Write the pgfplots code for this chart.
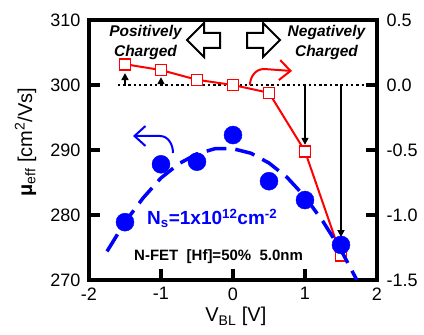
\documentclass[border=0pt]{standalone}
\usepackage{pgfplots}
\pgfplotsset{compat=1.18}
\usepackage{fontspec}
\setmainfont{Liberation Sans}
\usetikzlibrary{arrows.meta}
\definecolor{myblue}{RGB}{0,0,255}
\definecolor{myred}{RGB}{255,0,0}
\begin{document}
\begin{tikzpicture}[x=1pt,y=1pt]
\path[use as bounding box] (0,0) rectangle (424,335);
\pgfplotsset{
  every axis/.append style={
    at={(89pt,55pt)}, anchor=south west,
    scale only axis, width=288pt, height=260pt,
    xmin=-2, xmax=2,
    axis line style={line width=3.3pt, line cap=rect},
    tick align=inside,
    major tick length=11pt,
    every tick/.style={line width=3.3pt, black},
    tick label style={font=\fontsize{18}{20}\selectfont},
    label style={font=\fontsize{20}{22}\selectfont},
  }
}
% right axis (red)
\begin{axis}[
  ymin=-1.5, ymax=0.5,
  axis x line=none, axis y line*=right,
  ytick={-1.5,-1,-0.5,0,0.5}, yticklabels={-1.5,-1.0,-0.5,0.0,0.5},
  yticklabel style={xshift=6pt},
]
\draw[black, line width=2.5pt, dash pattern=on 2.5pt off 2.8pt] (axis cs:-1.6,0) -- (axis cs:2,0);
\draw[black, line width=1.5pt, -{Triangle[length=7pt,width=7pt]}] (axis cs:-1.5,0) -- (axis cs:-1.5,0.092);
\draw[black, line width=1.5pt, -{Triangle[length=7pt,width=7pt]}] (axis cs:-1,0) -- (axis cs:-1,0.06);
\draw[black, line width=1.5pt, -{Triangle[length=7pt,width=7pt]}] (axis cs:1,0) -- (axis cs:1,-0.46);
\draw[black, line width=1.5pt, -{Triangle[length=7pt,width=7pt]}] (axis cs:1.5,0) -- (axis cs:1.5,-1.17);
\addplot[myred, line width=2pt, mark=square*, mark size=5.5pt,
  mark options={fill=white, draw=myred, line width=1.6pt, solid}] coordinates {
  (-1.5,0.16) (-1,0.115) (-0.5,0.04) (0,0.0) (0.5,-0.06) (1,-0.51) (1.5,-1.31)
};
\end{axis}
% left axis (blue)
\begin{axis}[
  ymin=270, ymax=310,
  ytick={270,280,290,300,310}, yticklabels={270,280,290,300,310},
  xtick={-2,-1,0,1,2}, xticklabels={-2,-1,0,1,2},
  xtick pos=bottom, ytick pos=left,
  yticklabel style={xshift=-5pt},
  xticklabel style={yshift=-4pt},
  xlabel={V\textsubscript{BL} [V]},
  ylabel={\textbf{μ}\textsubscript{eff} [cm\textsuperscript{2}/Vs]},
  xlabel style={at={(axis description cs:0.51,0)}, anchor=base, yshift=-42pt},
  ylabel style={at={(axis description cs:-0.22,0.53)}, anchor=center},
]
\addplot[myblue, line width=3.5pt, dash pattern=on 20pt off 9pt] coordinates {
  (-1.75,274.4) (-1.5,278.9) (-1.25,282.6) (-1.0,285.7) (-0.75,287.9) (-0.5,289.4)
  (-0.25,290.2) (0,290.2) (0.25,289.5) (0.5,288.0) (0.75,285.8) (1.0,282.8)
  (1.25,279.0) (1.5,274.6) (1.72,270.0)
};
\addplot[only marks, mark=*, mark size=9pt, myblue, mark options={fill=myblue, draw=myblue, solid}] coordinates {
  (-1.5,278.9) (-1,287.8) (-0.5,288.2) (0,292.3) (0.5,285.2) (1,282.3) (1.5,275.4)
};
\end{axis}
% annotations (pixel-based: x=px, y=335-py)
\draw[line width=2pt, line join=miter] (187,295) -- (204,312) -- (204,302) -- (220,302) -- (220,287) -- (204,287) -- (204,278) -- cycle;
\draw[line width=2pt, line join=miter] (280,295) -- (263,312) -- (263,302) -- (247,302) -- (247,287) -- (263,287) -- (263,278) -- cycle;
\node[font=\fontsize{15.5}{20}\selectfont\bfseries\itshape, align=center, inner sep=0] at (145.5,293) {Positively\\Charged};
\node[font=\fontsize{15.5}{20}\selectfont\bfseries\itshape, align=center, inner sep=0] at (326.5,293) {Negatively\\Charged};
\draw[myred, line width=2pt, -{Straight Barb[length=11pt,width=20pt]}] (250,250) to[out=90,in=180] (264,266) -- (292,264);
\draw[myblue, line width=2pt, -{Straight Barb[length=11pt,width=20pt]}] (173,182) to[out=90,in=0] (160,199) -- (133,199);
\node[anchor=base west, inner sep=0, text=myblue, font=\fontsize{19}{22}\selectfont\bfseries] at (147,110) {N\textsubscript{s}=1x10\textsuperscript{12}cm\textsuperscript{-2}};
\node[anchor=base west, inner sep=0, font=\fontsize{15}{18}\selectfont\bfseries] at (134,74) {N-FET\ \ [Hf]=50\%\ \ 5.0nm};
\end{tikzpicture}
\end{document}
